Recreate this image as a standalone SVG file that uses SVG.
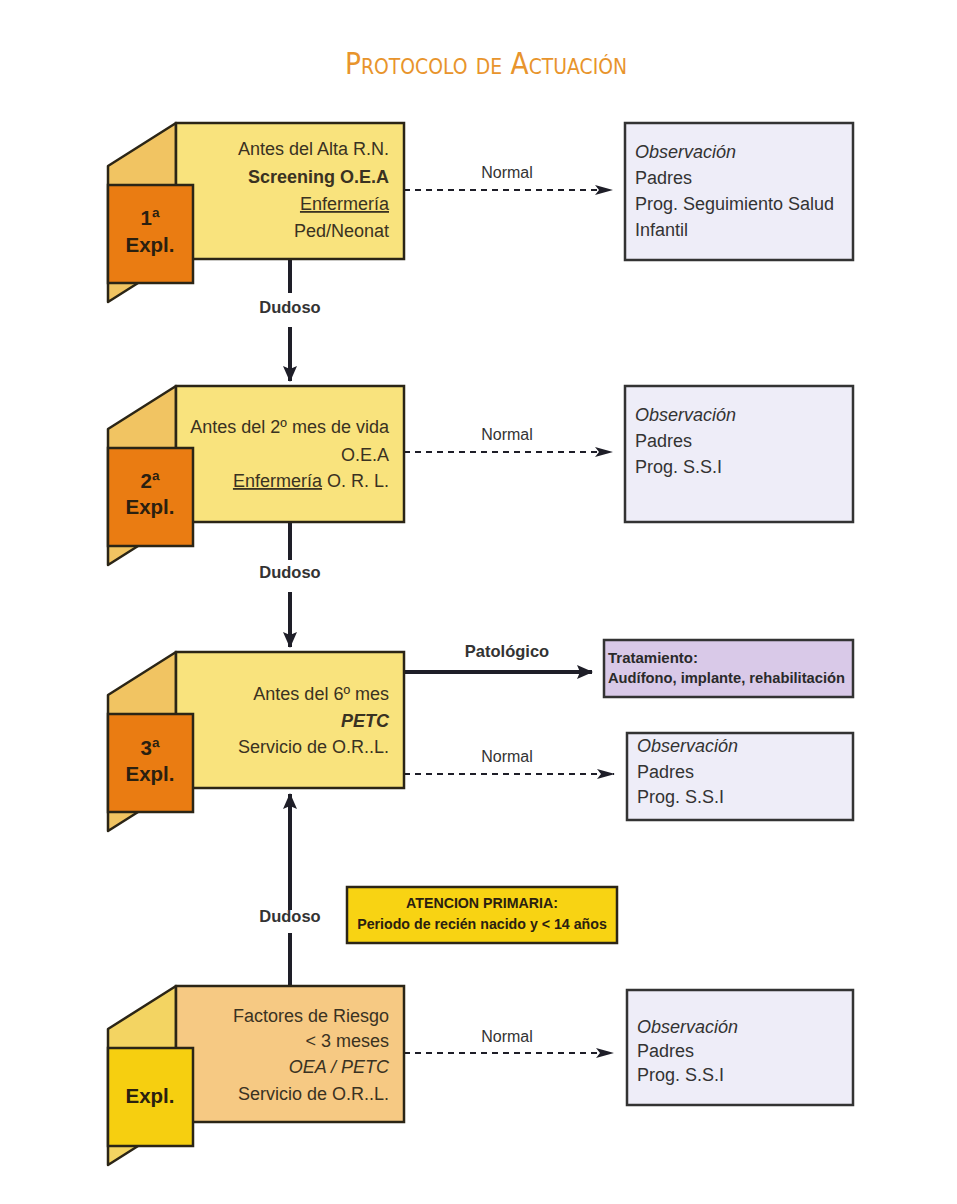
<svg xmlns="http://www.w3.org/2000/svg" width="957" height="1204" viewBox="0 0 957 1204">
<defs>
<marker id="ah" viewBox="0 0 16 14" refX="15" refY="7" markerWidth="17" markerHeight="14" markerUnits="userSpaceOnUse" orient="auto"><path d="M0,0 L16,7 L0,14 L3,7 z" fill="#1e1e28"/></marker>
<marker id="ahs" viewBox="0 0 18 10" refX="17" refY="5" markerWidth="18" markerHeight="10" markerUnits="userSpaceOnUse" orient="auto"><path d="M0,0 L18,5 L0,10 L4,5 z" fill="#1e1e28"/></marker>
</defs>
<style>
text{font-family:"Liberation Sans",Arial,sans-serif;fill:#3a3222}
.t{font-size:18px;text-anchor:end}
.ex{font-size:20.5px;font-weight:bold;text-anchor:middle;fill:#2a2010}
.fold{fill:#f1c462;stroke:#2b2516;stroke-width:2.5;stroke-linejoin:round}
.main{fill:#f9e37d;stroke:#2b2516;stroke-width:2.5}
.sq{fill:#ea7c12;stroke:#2b2516;stroke-width:2.5}
.main4{fill:#f6c983;stroke:#2b2516;stroke-width:2.5}
.fold4{fill:#f3d462;stroke:#2b2516;stroke-width:2.5;stroke-linejoin:round}
.sq4{fill:#f6cf10;stroke:#2b2516;stroke-width:2.5}
.obs{fill:#eeedf8;stroke:#333;stroke-width:2.5}
.o{font-size:18px;fill:#333}
.lbl{font-size:16px;text-anchor:middle;fill:#333}
.blbl{font-size:16.5px;font-weight:bold;text-anchor:middle;fill:#333}
.solid{stroke:#1e1e28;stroke-width:4;fill:none}
.dash{stroke:#1e1e28;stroke-width:2;stroke-dasharray:6 5;fill:none}
.at{font-size:14.2px;font-weight:bold;text-anchor:middle;fill:#2a2010}
</style>
<rect width="957" height="1204" fill="#ffffff"/>
<text x="486" y="74" text-anchor="middle" style="font-family:'Liberation Sans Narrow','DejaVu Sans Condensed',sans-serif;fill:#e8942c;font-variant:small-caps" font-size="31" textLength="282" lengthAdjust="spacingAndGlyphs">Protocolo de Actuación</text>

<g id="connectors">
<path class="solid" d="M290,260 V293 M290,327 V381" marker-end="url(#ah)"/>
<path class="solid" d="M290,522 V560 M290,592 V647" marker-end="url(#ah)"/>
<path class="solid" d="M290,986 V933 M290,910 V794" marker-end="url(#ah)"/>
<path class="solid" d="M404,672 H592" marker-end="url(#ah)"/>
<path class="dash" d="M404,190 H612" marker-end="url(#ahs)"/>
<path class="dash" d="M404,452 H612" marker-end="url(#ahs)"/>
<path class="dash" d="M404,774 H614" marker-end="url(#ahs)"/>
<path class="dash" d="M404,1053 H613" marker-end="url(#ahs)"/>
<text class="blbl" x="290" y="313">Dudoso</text>
<text class="blbl" x="290" y="578">Dudoso</text>
<text class="blbl" x="290" y="922">Dudoso</text>
<text class="blbl" x="507" y="657">Patológico</text>
<text class="lbl" x="507" y="178">Normal</text>
<text class="lbl" x="507" y="440">Normal</text>
<text class="lbl" x="507" y="762">Normal</text>
<text class="lbl" x="507" y="1042">Normal</text>
</g>

<g id="node1" transform="translate(0,123)">
<polygon class="fold" points="176,0 108,43 108,179 176,136"/>
<rect class="main" x="176" y="0" width="228" height="136"/>
<rect class="sq" x="108" y="62" width="85" height="98"/>
<text class="t" x="389" y="32">Antes del Alta R.N.</text>
<text class="t" x="389" y="60" font-weight="bold">Screening O.E.A</text>
<text class="t" x="389" y="87" text-decoration="underline">Enfermería</text>
<text class="t" x="389" y="114">Ped/Neonat</text>
<text class="ex" x="150" y="102">1ª</text>
<text class="ex" x="150" y="129">Expl.</text>
</g>

<g id="node2" transform="translate(0,386)">
<polygon class="fold" points="176,0 108,43 108,179 176,136"/>
<rect class="main" x="176" y="0" width="228" height="136"/>
<rect class="sq" x="108" y="62" width="85" height="98"/>
<text class="t" x="389" y="47">Antes del 2º mes de vida</text>
<text class="t" x="389" y="75">O.E.A</text>
<text class="t" x="389" y="101"><tspan text-decoration="underline">Enfermería</tspan> O. R. L.</text>
<text class="ex" x="150" y="102">2ª</text>
<text class="ex" x="150" y="128">Expl.</text>
</g>

<g id="node3" transform="translate(0,652)">
<polygon class="fold" points="176,0 108,43 108,179 176,136"/>
<rect class="main" x="176" y="0" width="228" height="136"/>
<rect class="sq" x="108" y="62" width="85" height="98"/>
<text class="t" x="389" y="48">Antes del 6º mes</text>
<text class="t" x="389" y="75" font-weight="bold" font-style="italic">PETC</text>
<text class="t" x="389" y="101">Servicio de O.R..L.</text>
<text class="ex" x="150" y="103">3ª</text>
<text class="ex" x="150" y="129">Expl.</text>
</g>

<g id="node4" transform="translate(0,986)">
<polygon class="fold4" points="176,0 108,43 108,179 176,136"/>
<rect class="main4" x="176" y="0" width="228" height="136"/>
<rect class="sq4" x="108" y="62" width="85" height="98"/>
<text class="t" x="389" y="36">Factores de Riesgo</text>
<text class="t" x="389" y="61">&lt; 3 meses</text>
<text class="t" x="389" y="87" font-style="italic">OEA / PETC</text>
<text class="t" x="389" y="114">Servicio de O.R..L.</text>
<text class="ex" x="150" y="117">Expl.</text>
</g>

<g id="obs1">
<rect class="obs" x="625" y="123" width="228" height="137"/>
<text class="o" x="635" y="158" font-style="italic">Observación</text>
<text class="o" x="635" y="184">Padres</text>
<text class="o" x="635" y="210">Prog. Seguimiento Salud</text>
<text class="o" x="635" y="236">Infantil</text>
</g>

<g id="obs2">
<rect class="obs" x="625" y="386" width="228" height="136"/>
<text class="o" x="635" y="421" font-style="italic">Observación</text>
<text class="o" x="635" y="447">Padres</text>
<text class="o" x="635" y="473">Prog. S.S.I</text>
</g>

<g id="tratamiento">
<rect x="604" y="640" width="249" height="57" fill="#d9c9e8" stroke="#333" stroke-width="2.5"/>
<text x="608" y="663" font-size="15" font-weight="bold" style="fill:#2a2a2a">Tratamiento:</text>
<text x="608" y="683" font-size="15" font-weight="bold" style="fill:#2a2a2a" textLength="237" lengthAdjust="spacingAndGlyphs">Audífono, implante, rehabilitación</text>
</g>

<g id="obs3">
<rect class="obs" x="627" y="733" width="226" height="87"/>
<text class="o" x="637" y="752" font-style="italic">Observación</text>
<text class="o" x="637" y="778">Padres</text>
<text class="o" x="637" y="803">Prog. S.S.I</text>
</g>

<g id="atencion">
<rect x="347" y="887" width="270" height="56" fill="#f8d313" stroke="#2b2516" stroke-width="2.5"/>
<text class="at" x="482" y="908">ATENCION PRIMARIA:</text>
<text class="at" x="482" y="929">Periodo de recién nacido y &lt; 14 años</text>
</g>

<g id="obs4">
<rect class="obs" x="627" y="990" width="226" height="115"/>
<text class="o" x="637" y="1033" font-style="italic">Observación</text>
<text class="o" x="637" y="1057">Padres</text>
<text class="o" x="637" y="1081">Prog. S.S.I</text>
</g>
</svg>
